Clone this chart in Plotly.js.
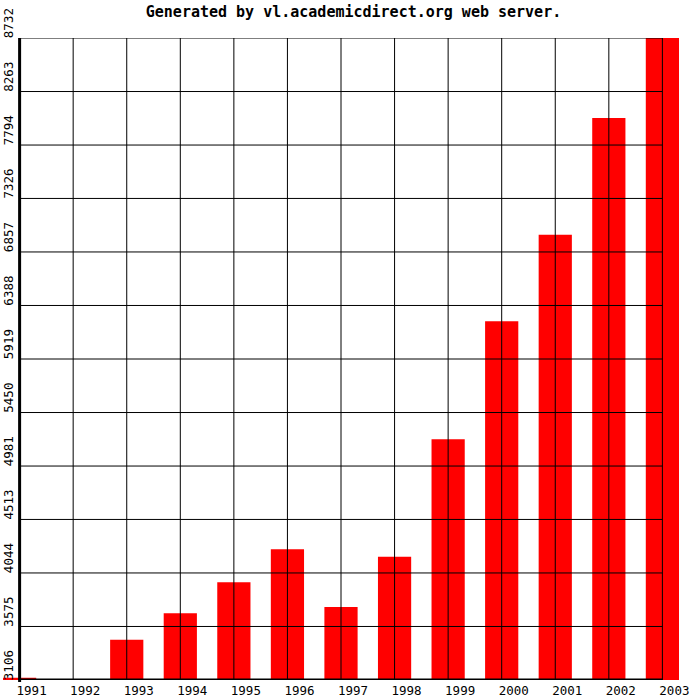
<!DOCTYPE html>
<html>
<head>
<meta charset="utf-8">
<script src="https://cdn.plot.ly/plotly-3.0.1.min.js"></script>
<style>html,body{margin:0;padding:0;background:#fff;}#chart{width:700px;height:700px;}</style>
</head>
<body>
<div id="chart"></div>
<script>
// Data
const years = ["1991","1992","1993","1994","1995","1996","1997","1998","1999","2000","2001","2002","2003"];
const values = [3126, 3106, 3459, 3692, 3963, 4252, 3745, 4185, 5215, 6250, 7008, 8032, 8732];
const yTickVals = [3106, 3575, 4044, 4513, 4981, 5450, 5919, 6388, 6857, 7326, 7794, 8263, 8732];
const yTickText = yTickVals.map(String);
const titleText = "Generated by vl.academicdirect.org web server.";

const mono = "DejaVu Sans Mono, Liberation Mono, monospace";
const idx = years.map((_, i) => i);
const first = 0, last = years.length - 1;
const pad = 0.31;                    // room for half a bar at each end
const xRange = [first - pad, last + pad];
const yAxisPos = pad / (xRange[1] - xRange[0]);

const shapes = [];
// vertical grid lines (drawn above the bars, as in the reference)
idx.forEach(i => {
  shapes.push({type: "line", layer: "above", xref: "x", yref: "paper",
    x0: i, x1: i, y0: 0, y1: 1, line: {color: "#000", width: 1}});
});
// horizontal grid lines
yTickVals.forEach(v => {
  shapes.push({type: "line", layer: "above", xref: "x", yref: "y",
    x0: first, x1: last, y0: v, y1: v, line: {color: "#000", width: 1}});
});
// thick axis lines
shapes.push({type: "line", layer: "above", xref: "x", yref: "paper",
  x0: first, x1: first, y0: -0.003, y1: 1, line: {color: "#000", width: 3}});
shapes.push({type: "line", layer: "above", xref: "x", yref: "y",
  x0: first - 0.03, x1: last, y0: yTickVals[0], y1: yTickVals[0], line: {color: "#000", width: 3}});

const trace = {
  type: "bar",
  x: idx,
  y: values.map(v => v - yTickVals[0]),
  base: yTickVals[0],
  width: 0.62,
  marker: {color: "#ff0000", line: {width: 0}},
  hoverinfo: "skip"
};

const layout = {
  width: 700, height: 700,
  margin: {l: 3, r: 21, t: 38, b: 20, pad: 0},
  paper_bgcolor: "#fff", plot_bgcolor: "#fff",
  showlegend: false,
  title: {text: "<b>" + titleText + "</b>", x: 0.505, xref: "container", xanchor: "center",
    y: 0.983, yref: "container", yanchor: "middle",
    font: {family: mono, size: 15, color: "#000"}},
  xaxis: {
    type: "linear", range: xRange,
    tickmode: "array", tickvals: idx, ticktext: years,
    showgrid: false, zeroline: false, showline: false,
    ticks: "", tickangle: 0, ticklabelshift: 12, ticklabelstandoff: 1,
    tickfont: {family: mono, size: 12.5, color: "#000"}
  },
  yaxis: {
    range: [yTickVals[0], yTickVals[yTickVals.length - 1]],
    anchor: "free", position: yAxisPos,
    tickmode: "array", tickvals: yTickVals, ticktext: yTickText,
    showgrid: false, zeroline: false, showline: false,
    ticks: "", tickangle: -90, ticklabelshift: -13, ticklabelstandoff: 4,
    tickfont: {family: mono, size: 12.5, color: "#000"}
  },
  shapes: shapes
};

Plotly.newPlot("chart", [trace], layout, {displayModeBar: false, staticPlot: true});
</script>
</body>
</html>
